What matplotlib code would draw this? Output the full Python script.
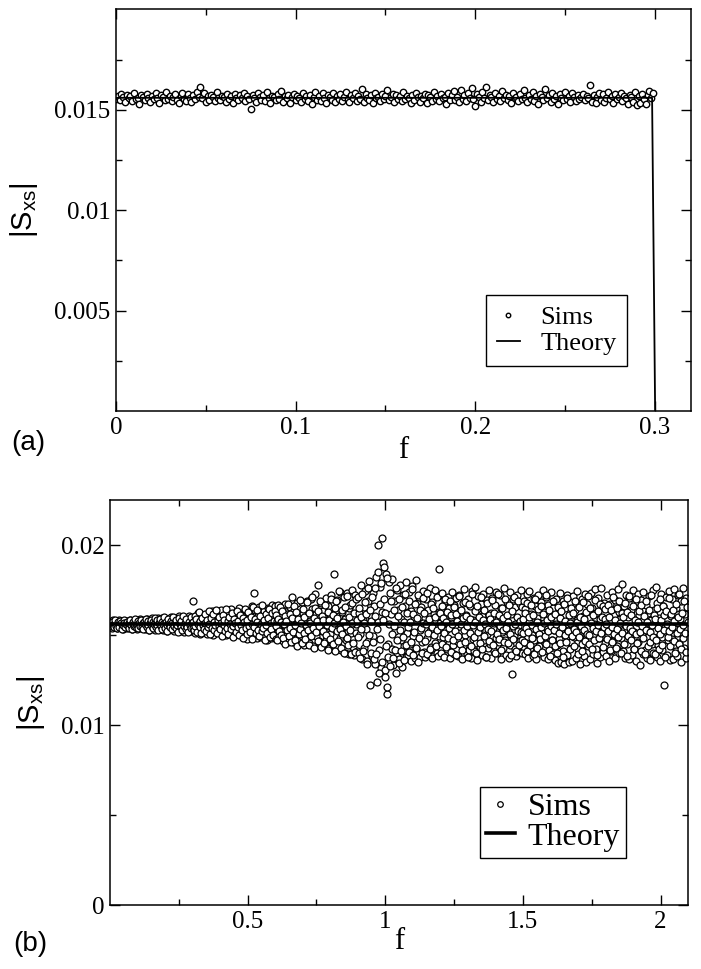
import numpy as np
import matplotlib
matplotlib.use('Agg')
import matplotlib.pyplot as plt

plt.rcParams['font.family'] = ['Liberation Serif', 'DejaVu Serif']
plt.rcParams['mathtext.default'] = 'regular'

# ---- panel (a): |S_xs| vs f, values in units of 1e-5, one point every 0.001 from f=0
sims_a = [
    1555, 1571, 1548, 1580, 1562, 1539, 1575, 1557, 1568, 1544, 1586, 1553, 1561, 1531, 1572, 1566, 1549, 1578, 1558, 1541,
    1569, 1552, 1583, 1560, 1536, 1574, 1563, 1547, 1588, 1555, 1570, 1542, 1564, 1579, 1550, 1533, 1567, 1585, 1556, 1545,
    1577, 1561, 1538, 1573, 1554, 1590, 1566, 1612, 1559, 1582, 1537, 1568, 1551, 1575, 1563, 1543, 1587, 1558, 1549, 1571,
    1564, 1540, 1578, 1555, 1567, 1534, 1581, 1560, 1548, 1572, 1557, 1585, 1543, 1569, 1552, 1502, 1576, 1561, 1539, 1583,
    1566, 1550, 1574, 1545, 1589, 1559, 1536, 1570, 1562, 1547, 1579, 1554, 1592, 1541, 1568, 1557, 1573, 1532, 1565, 1580,
    1548, 1571, 1560, 1538, 1584, 1553, 1567, 1544, 1576, 1529, 1563, 1588, 1551, 1570, 1546, 1582, 1558, 1535, 1574, 1562,
    1549, 1586, 1540, 1569, 1556, 1578, 1543, 1565, 1591, 1552, 1537, 1573, 1560, 1583, 1546, 1568, 1555, 1605, 1539, 1577,
    1561, 1548, 1572, 1534, 1585, 1558, 1566, 1542, 1579, 1553, 1570, 1599, 1547, 1563, 1581, 1538, 1575, 1556, 1567, 1544,
    1589, 1552, 1571, 1560, 1536, 1576, 1549, 1584, 1563, 1541, 1568, 1557, 1580, 1533, 1573, 1562, 1546, 1587, 1554, 1570,
    1543, 1578, 1559, 1566, 1531, 1583, 1551, 1572, 1594, 1547, 1564, 1538, 1600, 1556, 1575, 1545, 1586, 1561, 1608, 1553,
    1519, 1577, 1565, 1540, 1590, 1558, 1614, 1549, 1573, 1562, 1537, 1582, 1555, 1569, 1544, 1595, 1560, 1576, 1548, 1571,
    1535, 1584, 1557, 1566, 1543, 1579, 1552, 1597, 1561, 1539, 1574, 1555, 1588, 1546, 1568, 1530, 1581, 1563, 1550, 1603,
    1559, 1572, 1541, 1585, 1554, 1567, 1527, 1578, 1561, 1548, 1590, 1556, 1570, 1537, 1583, 1563, 1545, 1575, 1552, 1566,
    1580, 1547, 1569, 1558, 1622, 1539, 1573, 1532, 1564, 1586, 1550, 1577, 1541, 1561, 1590, 1555, 1568, 1536, 1579, 1553,
    1565, 1584, 1545, 1571, 1558, 1530, 1576, 1562, 1541, 1589, 1525, 1567, 1534, 1580, 1553, 1528, 1573, 1595, 1560, 1585,
]
theory_a_f = [0.0, 0.2985, 0.3002]
theory_a_s = [0.0156, 0.0156, 0.0]

# ---- panel (b): blocks of 0.3 in f, step 0.003 (second list of each block is shifted by 0.0015)
# values in units of 1e-5
sims_b1 = [  # f = 0 .. 0.297
    1572, 1548, 1563, 1539, 1581, 1555, 1544, 1576, 1560, 1537, 1569, 1585, 1551, 1542, 1574, 1558, 1533, 1566, 1580, 1547,
    1562, 1538, 1577, 1553, 1586, 1545, 1568, 1531, 1574, 1557, 1541, 1583, 1564, 1536, 1571, 1549, 1590, 1556, 1540, 1578,
    1552, 1584, 1535, 1567, 1546, 1589, 1559, 1530, 1575, 1543, 1565, 1592, 1538, 1557, 1581, 1526, 1570, 1549, 1595, 1561,
    1534, 1578, 1555, 1597, 1528, 1566, 1587, 1544, 1560, 1521, 1583, 1552, 1573, 1539, 1600, 1548, 1569, 1525, 1591, 1557,
    1536, 1580, 1547, 1603, 1563, 1520, 1586, 1541, 1572, 1554, 1518, 1595, 1559, 1531, 1577, 1545, 1606, 1550, 1524, 1589,
]
sims_b1x = [
    1561, 1549, 1574, 1556, 1543, 1567, 1582, 1552, 1538, 1570, 1559, 1546, 1577, 1564, 1535, 1553, 1586, 1568, 1544, 1560,
    1575, 1550, 1540, 1566, 1583, 1557, 1534, 1571, 1548, 1563, 1588, 1545, 1558, 1579, 1537, 1565, 1551, 1584, 1547, 1569,
    1532, 1573, 1560, 1591, 1542, 1555, 1578, 1529, 1566, 1586, 1550, 1539, 1572, 1561, 1597, 1544, 1556, 1583, 1527, 1568,
    1590, 1548, 1575, 1535, 1562, 1599, 1541, 1570, 1553, 1523, 1587, 1559, 1545, 1578, 1531, 1564, 1602, 1549, 1571, 1537,
    1582, 1556, 1519, 1594, 1562, 1543, 1576, 1528, 1605, 1552, 1567, 1534, 1589, 1547, 1516, 1573, 1558, 1598, 1539, 1565,
]
sims_b2 = [  # f = 0.3 .. 0.597
    1690, 1541, 1574, 1512, 1598, 1555, 1530, 1620, 1566, 1508, 1583, 1547, 1611, 1525, 1570, 1592, 1536, 1559, 1504, 1615,
    1548, 1588, 1519, 1632, 1562, 1501, 1579, 1540, 1625, 1553, 1515, 1600, 1534, 1568, 1640, 1510, 1585, 1545, 1607, 1527,
    1573, 1498, 1618, 1550, 1590, 1521, 1645, 1537, 1565, 1493, 1604, 1558, 1629, 1514, 1581, 1543, 1650, 1506, 1570, 1533,
    1612, 1489, 1556, 1637, 1520, 1594, 1476, 1567, 1623, 1511, 1584, 1540, 1660, 1497, 1574, 1731, 1641, 1552, 1483, 1603,
    1516, 1655, 1545, 1488, 1620, 1562, 1502, 1634, 1535, 1580, 1470, 1648, 1525, 1597, 1553, 1485, 1665, 1518, 1589, 1542,
]
sims_b2x = [
    1572, 1530, 1605, 1551, 1589, 1518, 1563, 1626, 1542, 1580, 1509, 1597, 1557, 1535, 1614, 1568, 1522, 1584, 1546, 1631,
    1561, 1503, 1592, 1538, 1619, 1575, 1527, 1556, 1638, 1512, 1583, 1549, 1602, 1531, 1569, 1497, 1610, 1554, 1586, 1520,
    1644, 1541, 1576, 1506, 1599, 1560, 1532, 1622, 1548, 1491, 1587, 1567, 1515, 1635, 1544, 1579, 1500, 1613, 1558, 1526,
    1594, 1484, 1570, 1647, 1537, 1581, 1507, 1628, 1552, 1519, 1601, 1563, 1478, 1655, 1545, 1590, 1513, 1573, 1639, 1530,
    1495, 1608, 1559, 1524, 1668, 1541, 1582, 1472, 1617, 1555, 1511, 1596, 1643, 1487, 1566, 1534, 1624, 1500, 1578, 1662,
]
sims_b3 = [  # f = 0.6 .. 0.897
    1632, 1479, 1578, 1540, 1665, 1497, 1603, 1521, 1648, 1466, 1585, 1553, 1671, 1505, 1617, 1459, 1569, 1530, 1656, 1488,
    1713, 1548, 1462, 1638, 1516, 1594, 1451, 1676, 1534, 1607, 1473, 1560, 1685, 1495, 1625, 1447, 1574, 1526, 1690, 1482,
    1612, 1456, 1580, 1699, 1509, 1643, 1440, 1566, 1728, 1493, 1618, 1537, 1778, 1465, 1597, 1442, 1680, 1520, 1633, 1452,
    1586, 1705, 1475, 1549, 1662, 1430, 1614, 1503, 1720, 1458, 1571, 1839, 1421, 1652, 1532, 1696, 1437, 1603, 1486, 1740,
    1415, 1628, 1546, 1710, 1402, 1589, 1470, 1735, 1523, 1648, 1396, 1668, 1511, 1752, 1435, 1593, 1389, 1725, 1560, 1410,
]
sims_b3x = [
    1548, 1612, 1470, 1590, 1523, 1655, 1502, 1571, 1636, 1485, 1560, 1607, 1452, 1580, 1529, 1674, 1496, 1617, 1541, 1463,
    1596, 1518, 1662, 1475, 1553, 1628, 1440, 1588, 1505, 1697, 1532, 1569, 1458, 1645, 1510, 1601, 1478, 1558, 1682, 1527,
    1444, 1620, 1565, 1493, 1710, 1538, 1592, 1428, 1651, 1515, 1577, 1467, 1635, 1549, 1690, 1435, 1604, 1522, 1584, 1456,
    1667, 1501, 1556, 1418, 1627, 1583, 1480, 1702, 1540, 1449, 1613, 1564, 1412, 1688, 1520, 1595, 1466, 1744, 1535, 1426,
    1639, 1508, 1575, 1400, 1658, 1552, 1483, 1716, 1446, 1600, 1530, 1395, 1677, 1568, 1455, 1621, 1407, 1699, 1512, 1586,
]
sims_b4 = [  # f = 0.9 .. 1.197
    1712, 1398, 1625, 1505, 1780, 1367, 1584, 1658, 1430, 1745, 1532, 1354, 1690, 1468, 1802, 1222, 1606, 1385, 1735, 1495,
    1660, 1340, 1822, 1240, 1570, 2002, 1415, 1765, 1318, 1630, 2040, 1900, 1880, 1305, 1838, 1170, 1210, 1450, 1795, 1362,
    1615, 1420, 1810, 1335, 1688, 1525, 1290, 1750, 1402, 1640, 1365, 1778, 1470, 1590, 1325, 1722, 1440, 1662, 1380, 1795,
    1512, 1388, 1740, 1450, 1632, 1356, 1775, 1495, 1598, 1372, 1805, 1425, 1680, 1395, 1712, 1530, 1378, 1655, 1462, 1745,
    1408, 1595, 1376, 1702, 1485, 1640, 1390, 1760, 1520, 1436, 1685, 1382, 1615, 1748, 1455, 1580, 1398, 1715, 1492, 1867,
]
sims_b4x = [
    1488, 1650, 1372, 1598, 1535, 1728, 1410, 1566, 1682, 1455, 1616, 1340, 1760, 1502, 1637, 1398, 1580, 1712, 1460, 1365,
    1608, 1760, 1395, 1532, 1850, 1290, 1675, 1480, 1790, 1352, 1585, 1700, 1265, 1625, 1440, 1815, 1380, 1560, 1735, 1330,
    1690, 1505, 1372, 1640, 1550, 1418, 1762, 1475, 1605, 1345, 1700, 1528, 1412, 1655, 1490, 1575, 1360, 1730, 1445, 1620,
    1547, 1405, 1690, 1572, 1460, 1758, 1390, 1618, 1515, 1670, 1428, 1595, 1350, 1722, 1482, 1640, 1540, 1400, 1705, 1568,
    1625, 1468, 1560, 1395, 1735, 1510, 1588, 1420, 1672, 1545, 1375, 1650, 1498, 1602, 1440, 1710, 1530, 1385, 1630, 1565,
]
sims_b5 = [  # f = 1.2 .. 1.497
    1620, 1402, 1735, 1488, 1565, 1378, 1690, 1530, 1425, 1712, 1455, 1648, 1370, 1598, 1740, 1442, 1668, 1395, 1555, 1705,
    1468, 1632, 1385, 1722, 1510, 1590, 1365, 1680, 1440, 1755, 1498, 1612, 1392, 1700, 1535, 1418, 1660, 1375, 1742, 1480,
    1585, 1412, 1768, 1455, 1642, 1360, 1718, 1525, 1435, 1675, 1390, 1605, 1730, 1470, 1565, 1380, 1695, 1505, 1428, 1750,
    1448, 1625, 1372, 1708, 1540, 1410, 1665, 1485, 1738, 1398, 1590, 1460, 1720, 1365, 1650, 1515, 1430, 1760, 1475, 1602,
    1388, 1685, 1520, 1370, 1740, 1445, 1615, 1282, 1700, 1495, 1420, 1655, 1382, 1725, 1550, 1405, 1672, 1465, 1748, 1398,
]
sims_b5x = [
    1548, 1660, 1452, 1595, 1510, 1702, 1435, 1575, 1628, 1482, 1540, 1688, 1405, 1612, 1563, 1470, 1655, 1525, 1390, 1618,
    1580, 1495, 1715, 1450, 1560, 1640, 1418, 1592, 1530, 1685, 1462, 1605, 1548, 1380, 1670, 1512, 1588, 1438, 1726, 1555,
    1488, 1632, 1570, 1402, 1660, 1518, 1598, 1455, 1545, 1712, 1425, 1585, 1640, 1492, 1560, 1378, 1678, 1535, 1610, 1468,
    1590, 1520, 1695, 1445, 1565, 1620, 1398, 1575, 1508, 1730, 1480, 1612, 1552, 1415, 1648, 1528, 1592, 1460, 1700, 1540,
    1612, 1458, 1570, 1668, 1505, 1390, 1632, 1548, 1478, 1710, 1560, 1412, 1602, 1525, 1688, 1442, 1580, 1515, 1655, 1470,
]
sims_b6 = [  # f = 1.5 .. 1.797
    1512, 1690, 1395, 1642, 1458, 1730, 1375, 1580, 1745, 1430, 1618, 1502, 1385, 1705, 1475, 1660, 1368, 1595, 1722, 1440,
    1568, 1402, 1685, 1490, 1750, 1380, 1630, 1455, 1712, 1535, 1365, 1668, 1418, 1588, 1740, 1472, 1395, 1652, 1528, 1360,
    1700, 1445, 1342, 1625, 1480, 1735, 1352, 1575, 1690, 1410, 1338, 1648, 1505, 1720, 1390, 1560, 1348, 1682, 1462, 1610,
    1355, 1715, 1490, 1640, 1372, 1585, 1745, 1425, 1665, 1340, 1532, 1702, 1450, 1608, 1385, 1728, 1498, 1350, 1675, 1438,
    1595, 1368, 1735, 1470, 1650, 1395, 1560, 1755, 1420, 1620, 1345, 1705, 1485, 1590, 1378, 1762, 1515, 1405, 1680, 1455,
]
sims_b6x = [
    1590, 1462, 1625, 1540, 1410, 1680, 1515, 1598, 1445, 1668, 1555, 1485, 1612, 1392, 1700, 1532, 1575, 1430, 1645, 1508,
    1478, 1660, 1545, 1405, 1618, 1565, 1495, 1722, 1448, 1585, 1520, 1640, 1385, 1602, 1552, 1470, 1690, 1530, 1438, 1615,
    1560, 1402, 1658, 1512, 1595, 1455, 1635, 1542, 1380, 1675, 1500, 1580, 1462, 1708, 1525, 1610, 1420, 1568, 1648, 1492,
    1622, 1535, 1440, 1690, 1518, 1570, 1395, 1655, 1488, 1600, 1550, 1412, 1682, 1528, 1590, 1465, 1630, 1505, 1718, 1448,
    1502, 1648, 1568, 1425, 1612, 1540, 1470, 1695, 1520, 1388, 1635, 1555, 1482, 1672, 1510, 1598, 1435, 1660, 1545, 1590,
]
sims_b7 = [  # f = 1.8 .. 2.097
    1642, 1385, 1720, 1498, 1358, 1675, 1542, 1412, 1738, 1465, 1610, 1370, 1695, 1525, 1440, 1755, 1398, 1628, 1590, 1482,
    1782, 1412, 1660, 1530, 1375, 1722, 1448, 1600, 1365, 1705, 1495, 1640, 1390, 1748, 1515, 1425, 1685, 1355, 1575, 1728,
    1460, 1612, 1332, 1695, 1505, 1395, 1740, 1550, 1418, 1665, 1372, 1622, 1488, 1715, 1360, 1585, 1452, 1752, 1402, 1638,
    1520, 1766, 1378, 1680, 1445, 1595, 1355, 1730, 1490, 1415, 1660, 1222, 1545, 1712, 1388, 1625, 1470, 1745, 1362, 1605,
    1480, 1698, 1368, 1755, 1535, 1410, 1650, 1382, 1725, 1458, 1590, 1350, 1690, 1505, 1762, 1428, 1618, 1372, 1708, 1540,
]
sims_b7x = [
    1560, 1478, 1665, 1522, 1598, 1415, 1640, 1545, 1462, 1712, 1508, 1585, 1430, 1652, 1535, 1490, 1690, 1568, 1402, 1625,
    1512, 1600, 1448, 1676, 1550, 1385, 1628, 1495, 1715, 1540, 1470, 1610, 1525, 1662, 1420, 1582, 1505, 1698, 1455, 1570,
    1632, 1515, 1410, 1668, 1548, 1482, 1605, 1392, 1688, 1530, 1575, 1440, 1640, 1518, 1460, 1722, 1555, 1488, 1612, 1395,
    1590, 1470, 1650, 1538, 1425, 1700, 1505, 1582, 1445, 1660, 1528, 1610, 1378, 1635, 1562, 1490, 1708, 1520, 1438, 1618,
    1545, 1640, 1465, 1580, 1402, 1675, 1512, 1598, 1450, 1728, 1535, 1420, 1622, 1558, 1485, 1690, 1510, 1408, 1655, 1572,
]
block_starts = [0.0, 0.3, 0.6, 0.9, 1.2, 1.5, 1.8]
theory_b_f = [0.0, 2.1]
theory_b_s = [0.0156, 0.0156]

fig = plt.figure(figsize=(7.01, 9.69), dpi=100)
ax1 = fig.add_axes([0.1655, 0.5759, 0.8198, 0.4143])
ax2 = fig.add_axes([0.1569, 0.0660, 0.8246, 0.4180])

# panel (a)
fa = np.arange(len(sims_a)) * 0.001
ax1.plot(fa, np.array(sims_a) * 1e-5, 'o', ms=4.6, mfc='white', mec='black', mew=1.0,
         label='Sims', zorder=2)
ax1.plot(theory_a_f, theory_a_s, '-', color='black', lw=1.3, label='Theory', zorder=3)
ax1.set_xlim(0, 0.32)
ax1.set_ylim(0, 0.02)
ax1.set_xticks([0, 0.1, 0.2, 0.3], ['0', '0.1', '0.2', '0.3'])
ax1.set_xticks([0.05, 0.15, 0.25], minor=True)
ax1.set_yticks([0.005, 0.01, 0.015], ['0.005', '0.01', '0.015'])
ax1.set_yticks([0.0025, 0.0075, 0.0125, 0.0175], minor=True)
ax1.set_xlabel('f', fontsize=22, labelpad=-2)

# panel (b)
blocks = [(sims_b1, sims_b1x), (sims_b2, sims_b2x), (sims_b3, sims_b3x), (sims_b4, sims_b4x),
          (sims_b5, sims_b5x), (sims_b6, sims_b6x), (sims_b7, sims_b7x)]
for i, (start, (vals, valsx)) in enumerate(zip(block_starts, blocks)):
    fb = start + np.arange(len(vals)) * 0.003
    ax2.plot(fb, np.array(vals) * 1e-5, 'o', ms=5.0, mfc='white', mec='black', mew=0.9,
             label='Sims' if i == 0 else None, zorder=2)
    ax2.plot(fb + 0.0015, np.array(valsx) * 1e-5, 'o', ms=5.0, mfc='white', mec='black', mew=0.9,
             zorder=2)
ax2.plot(theory_b_f, theory_b_s, '-', color='black', lw=2.6, label='Theory', zorder=3)
ax2.set_xlim(0, 2.1)
ax2.set_ylim(0, 0.0225)
ax2.set_xticks([0.5, 1, 1.5, 2], ['0.5', '1', '1.5', '2'])
ax2.set_xticks([0.25, 0.75, 1.25, 1.75], minor=True)
ax2.set_yticks([0, 0.01, 0.02], ['0', '0.01', '0.02'])
ax2.set_yticks([0.005, 0.015], minor=True)
ax2.set_xlabel('f', fontsize=22, labelpad=-4)

for ax in (ax1, ax2):
    ax.tick_params(which='both', direction='in', top=True, right=True, labelsize=18, pad=4)
    ax.tick_params(which='major', length=7.5, width=1)
    ax.tick_params(which='minor', length=4, width=1)
    for sp in ax.spines.values():
        sp.set_linewidth(1.1)

leg1 = ax1.legend(loc='lower right', bbox_to_anchor=(0.889, 0.112), borderaxespad=0,
                  fontsize=19, frameon=True, fancybox=False, edgecolor='black', framealpha=1,
                  handlelength=0.9, handletextpad=0.75, labelspacing=0.1, borderpad=0.4,
                  markerscale=0.7)
leg1.get_frame().set_linewidth(1.0)
leg2 = ax2.legend(loc='lower right', bbox_to_anchor=(0.893, 0.116), borderaxespad=0,
                  fontsize=23, frameon=True, fancybox=False, edgecolor='black', framealpha=1,
                  handlelength=0.9, handletextpad=0.4, labelspacing=0.0, borderpad=0.2,
                  markerscale=0.8)
leg2.get_frame().set_linewidth(1.0)

sans = ['Liberation Sans', 'DejaVu Sans']
fig.text(0.034, 0.783, '|S$_{xs}$|', rotation=90, ha='center', va='center', fontsize=21, family=sans)
fig.text(0.044, 0.2745, '|S$_{xs}$|', rotation=90, ha='center', va='center', fontsize=21, family=sans)
fig.text(0.040, 0.543, '(a)', ha='center', va='center', fontsize=20, family=sans)
fig.text(0.043, 0.026, '(b)', ha='center', va='center', fontsize=20, family=sans)

fig.savefig('out.png', dpi=100)
